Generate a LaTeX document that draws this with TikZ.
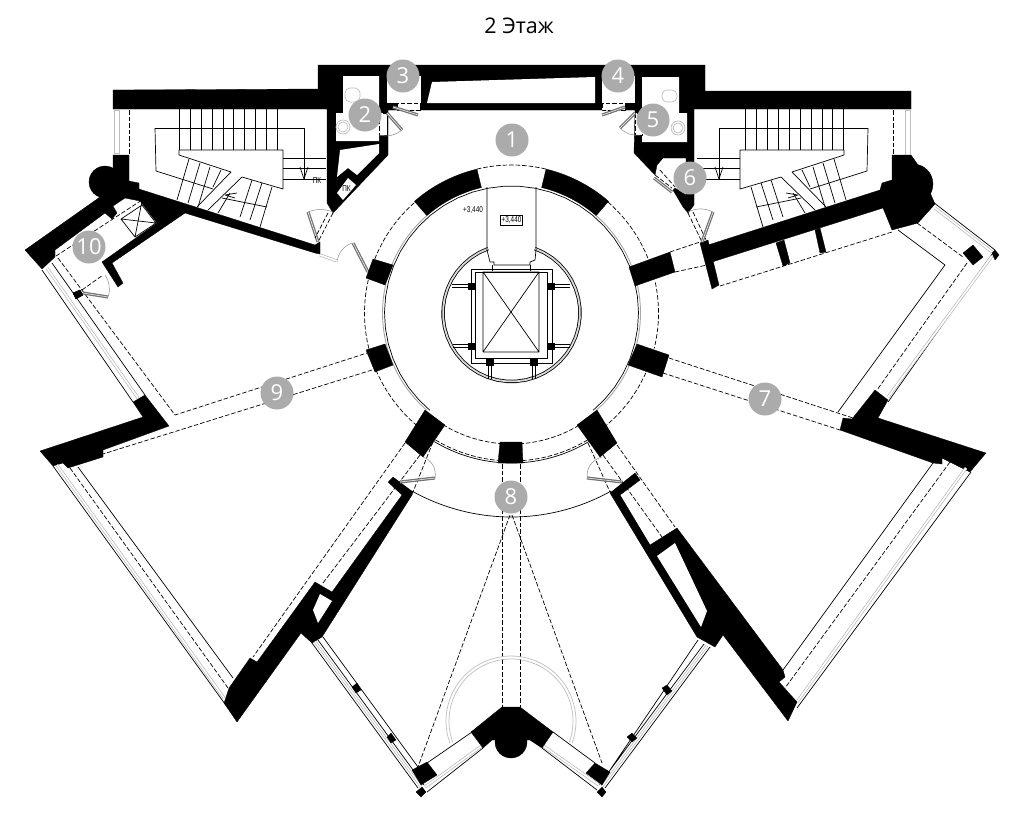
\documentclass[tikz,border=0pt]{standalone}
\usepackage{fontspec}
\setmainfont{Open Sans}
\newfontfamily\planfont{Liberation Sans}
\tikzset{
  wall/.style={fill=black,draw=black,line width=.3pt,line join=round},
  hole/.style={fill=white},
  plainline/.style={draw=black,line width=.7pt},
  dashline/.style={draw=black,line width=.7pt,dash pattern=on 4.5pt off 2pt},
  pane/.style={draw=black!28,line width=.7pt,double=white,double distance=1.6pt},
  leaf/.style={draw=black!55,line width=1.3pt,double=white,double distance=.5pt},
  swing/.style={draw=black!45,line width=.5pt},
  fixture/.style={draw=black!25,line width=.7pt},
  numb/.style={circle,fill=black!33,text=white,minimum size=33pt,inner sep=0pt,font=\fontsize{22}{22}\selectfont},
  levelmark/.style={font=\planfont\fontsize{8.5}{9}\selectfont,inner sep=1pt,xscale=.75}
}
\newcommand\ringarc[4][plainline]{\draw[#1] plot[domain=#3:#4,samples=40] ({511.5+#2*cos(\x)},{313+#2*sin(\x)});}
\newcommand\ringblk[4]{\fill[wall] plot[domain=#1:#2,samples=20] ({511.5+#4*cos(\x)},{313+#4*sin(\x)}) -- plot[domain=#2:#1,samples=20] ({511.5+#3*cos(\x)},{313+#3*sin(\x)}) -- cycle;}
\newcommand\stairs{
\foreach \i in {0,...,9}
\draw[plainline] ({179.3+10.9*\i},109)--({179.3+10.9*\i},150);
\draw[plainline] (155,128)--(304,128)--(304,180);
\draw[plainline] (155,128)--(156,171)--(213,189);
\draw[plainline] (179,150)--(283,150)--(283,189)--(242,177)--(208,210);
\draw[plainline] (179,150)--(179,155)--(231,172)--(197,207);
\foreach \a/\b/\c/\d in {189/159/177/200,200/163/188/203,210/167/198/207,221/170/213/187,252/180/240/217,262/183/250/220,272/187/260/227,230/193/218/213}
\draw[plainline] (\a,\b)--(\c,\d);
\draw[plainline] (222,198)--(267,207);
\draw[plainline] (237,193)--(225,195)--(235,198);
\foreach \y in {158,168,179}
\draw[plainline] (283,\y)--(326,\y);
\draw[plainline] (300,167)--(304,179)--(308,167);
}
\begin{document}
\begin{tikzpicture}[x=1pt,y=-1pt,line join=round,line cap=butt]
\useasboundingbox (0,0) rectangle (1024,825);
\fill[white] (0,0) rectangle (1024,825);
\node (title) at (519,26) {\fontsize{21.5}{21.5}\selectfont 2 Этаж};
% top block with wc rooms
\fill[wall] (113,90)--(318,89)--(318,65)--(705,65)--(705,91)--(911,91)--(911,109)--(694,109)--(694,205)--(688,213)--(683,207)--(673,190)--(675,188)--(686,195)--(686,158)--(663,158)--(657,165)--(655,175)--(634,153)--(635,110)--(388,110)--(388,155)--(333,213)--(327,203)--(327,109)--(113,109)--cycle;
\fill[hole] (343,76)--(379,76)--(379,141)--(336,141)--(336,113)--(343,113)--cycle;
\fill[hole] (642,77)--(679,77)--(679,113)--(687,113)--(687,142)--(642,142)--cycle;
\fill[hole] (387,76)--(421,76)--(421,103)--(387,103)--cycle;
\fill[hole] (602,76)--(635,76)--(635,103)--(602,103)--cycle;
\fill[hole] (432,82)--(595,77)--(595,103)--(427,103)--cycle;
\fill[hole] (379,144)--(340,150)--(337,177)--(348,168)--(357,175)--(379,153)--cycle;
\fill[hole] (337,193)--(348,178)--(356,185)--(343,200)--cycle;
\node[levelmark] (pk1) at (346.5,189) {ПК};
\node[levelmark] (pk2) at (317,181) {ПК};
% door openings
\foreach \a/\b/\c/\d in {379/113/387/135,635/113/642/135,397/103/420/110,602/103/625/110}{
\fill[hole] (\a,\b) rectangle (\c,\d);
\draw[dashline] (\a,\b) rectangle (\c,\d);}
\draw[leaf] (387,113)--(402,130);
\draw[swing] (402,130) to[bend left=25] (379,135);
\draw[leaf] (635,113)--(620,128);
\draw[swing] (620,128) to[bend right=25] (640,135);
\draw[leaf] (393,107)--(418,115);
\draw[leaf] (625,107)--(602,115);
\draw[leaf] (654,178)--(672,192);
\draw[dashline] (660,170)--(675,187) (655,175)--(672,188);
% wc fixtures
\draw[fixture,rounded corners=5pt] (345,88) rectangle (360,102);
\draw[fixture] (343,127) circle (7pt) (343,127) circle (5pt);
\draw[fixture,rounded corners=5pt] (662,90) rectangle (677,102);
\draw[fixture] (678,128) circle (7pt) (678,128) circle (5pt);
% stairs, left and right
\stairs
\begin{scope}[shift={(1023,0)},xscale=-1]
\stairs
\end{scope}
% stair windows
\draw[fixture] (114,110) rectangle (119,153);
\draw[dashline] (129,110)--(129,155);
\draw[fixture] (905,110) rectangle (910,155);
\draw[dashline] (893,110)--(893,155);
% north-west wall with lift
\fill[wall] (25,250)--(100,197)--(113,170)--(113,155)--(129,155)--(129,181)--(139,183)--(139,189)--(315,245)--(320,242)--(320,254)--(315,253)--(185,213)--(112,263)--(123,283)--(118,287)--(102,262)--(157,223)--(140,201)--(125,198)--(113,206)--(117,213)--(112,219)--(105,213)--(55,250)--(55,257)--(42,269)--cycle;
\fill[wall] (105,182) circle (16pt);
\draw[plainline] (121,219)--(142,205)--(156,223)--(135,237)--cycle (121,219)--(156,223) (135,237)--(142,201);
\draw[dashline] (56,256)--(142,200);
\draw[dashline] (58,258)--(175,415)--(367,353);
\draw[dashline] (82,290)--(103,275);
\fill[wall] (73,293)--(80,290)--(83,295)--(76,299)--cycle;
\draw[leaf] (83,293)--(108,297);
\draw[swing] (108,297) to[bend right=25] (105,275);
\draw[dashline] (372,370)--(103,454);
% door to the ring, left
\draw[leaf] (353,243)--(368,272);
\draw[swing] (337,262) to[bend left=30] (352,243);
\draw[pane] (320,255)--(337,261);
\draw[leaf] (308,212)--(318,242);
\draw[swing] (308,212) to[bend left=20] (333,212);
\draw[dashline] (333,213)--(318,242) (328,213)--(315,238);
% north-east wing
\fill[wall] (708,245)--(880,190)--(882,183)--(892,180)--(892,155)--(911,155)--(918,165)--(935,204)--(918,223)--(892,230)--(883,208)--(712,262)--cycle;
\fill[wall] (913,184) circle (20pt);
\fill[wall] (776,243)--(784,240)--(790,263)--(783,266)--cycle;
\fill[wall] (815,230)--(820,228)--(826,252)--(820,253)--cycle;
\fill[wall] (700,243)--(708,240)--(719,285)--(712,289)--cycle;
\draw[dashline] (720,286)--(892,232);
\draw[dashline] (670,252)--(700,242) (675,272)--(707,265);
\draw[dashline] (688,213)--(702,242) (693,212)--(706,240);
\draw[leaf] (702,242)--(713,212);
\draw[swing] (688,212) to[bend left=25] (713,212);
\draw[plainline] (898,230)--(945,265)--(838,412);
\draw[dashline] (917,223)--(963,257);
\draw[dashline] (967,263)--(877,390);
\draw[plainline] (933,202)--(995,250)--(888,402);
\draw[pane] (935,208)--(992,252) (992,256)--(888,397);
\fill[wall] (963,253)--(973,245)--(983,257)--(973,265)--cycle;
\fill[wall] (992,253)--(995,250)--(999,255)--(995,260)--cycle;
\draw[dashline] (669,358)--(853,418) (663,373)--(840,430);
% room 7 south wall
\fill[wall] (840,430)--(843,418)--(852,419)--(875,390)--(888,400)--(878,418)--(986,453)--(970,472)--(950,462)--(942,458)--(942,464)--(933,463)--cycle;
\draw[plainline] (971,472)--(797,708);
\draw[pane] (966,468)--(797,702);
\draw[dashline] (950,462)--(785,688);
\draw[plainline] (933,463)--(783,670);
% wing to the right of entrance
\fill[wall] (677,528)--(783,670)--(785,677)--(779,682)--(797,702)--(788,721)--(723,635)--(715,647)--(697,637)--(610,493)--(635,473)--(640,480)--(620,495)--(650,545)--cycle;
\fill[hole] (657,556)--(675,543)--(707,611)--(701,627)--cycle;
\draw[dashline] (617,445)--(675,527) (603,455)--(662,537);
\draw[dashline] (588,443)--(610,492);
\draw[leaf] (622,482)--(587,478);
\draw[swing] (602,457) to[bend right=40] (587,478);
% wall left of entrance
\fill[wall] (388,482)--(393,477)--(413,492)--(412,495)--(322,637)--(312,643)--(301,633)--(237,722)--(224,703)--(229,688)--(250,658)--(257,662)--(315,582)--(332,592)--(402,495)--cycle;
\fill[hole] (320,594)--(332,601)--(318,623)--(313,610)--cycle;
\draw[dashline] (405,443)--(253,657) (420,455)--(323,583);
\draw[dashline] (433,442)--(413,492);
\draw[leaf] (400,482)--(435,478);
\draw[swing] (423,457) to[bend left=40] (435,478);
% west room
\fill[wall] (40,451)--(143,417)--(133,402)--(145,395)--(169,426)--(103,450)--(103,457)--(68,468)--(63,463)--(53,466)--cycle;
\draw[plainline] (53,466)--(225,704);
\draw[pane] (57,465)--(224,698);
\draw[dashline] (70,468)--(228,688);
\draw[plainline] (78,467)--(233,678);
\draw[plainline] (42,270)--(133,402);
\draw[plainline] (52,263)--(145,395);
\draw[pane] (47,268)--(138,398);
\fill[wall] (73,293)--(80,290)--(83,295)--(76,299)--cycle;
% south wing
\draw[plainline] (312,643)--(418,788) (318,640)--(424,785) (323,637)--(418,767);
\draw[pane,double distance=1.2pt] (315,641.5)--(421,786.5);
\draw[plainline] (710,647)--(605,788) (704,644)--(599,785) (698,640)--(610,770);
\draw[pane,double distance=1.2pt] (707,645.5)--(602,786.5);
\foreach \a/\b/\c/\d/\e/\f/\g/\h in {352/687/357/683/361/690/356/693,387/737/391/733/396/740/391/743,662/688/667/685/672/691/667/695,627/737/632/733/637/738/632/742,412/770/427/762/437/775/421/785,586/773/595/763/610/772/602/785,416/792/422/787/426/792/421/797,597/792/602/787/606/792/602/797}
\fill[wall] (\a,\b)--(\c,\d)--(\e,\f)--(\g,\h)--cycle;
\draw[plainline] (427,763)--(472,732) (427,792)--(483,748);
\draw[plainline] (553,732)--(595,763) (542,748)--(597,790);
\draw[pane] (425,787)--(483,745);
\draw[pane] (542,745)--(599,785);
\fill[wall] (502,707)--(520,707)--(553,732)--(542,748)--(530,740)--(492,740)--(483,748)--(471,732)--cycle;
\fill[wall] (511,742) circle (16pt);
\draw[dashline] (502,464)--(502,707) (520,464)--(520,707);
\draw[dashline] (510,515)--(418,767) (512,515)--(602,763);
\draw[fixture] plot[domain=160:380,samples=50] ({511+65*cos(\x)},{721+65*sin(\x)});
\draw[fixture] plot[domain=160:380,samples=50] ({511+62*cos(\x)},{721+62*sin(\x)});
% rotunda
\ringarc[draw=black!35,line width=.9pt]{129}{131}{229}
\ringarc[draw=black!35,line width=.9pt]{129}{311}{409}
\ringarc{127}{130}{410}
\ringarc[dashline]{148}{256.5}{283.5}
\ringarc[dashline]{147}{311}{338.5}
\ringarc[dashline]{147}{348}{374}
\ringarc[dashline]{147}{384}{410}
\ringarc[dashline]{147}{130}{157}
\ringarc[dashline]{147}{166}{193}
\ringarc[dashline]{147}{201.5}{229}
\ringarc[dashline]{131}{59}{86}
\ringarc[dashline]{131}{94}{121}
\ringarc[dashline]{148}{59}{86}
\ringarc[dashline]{148}{94}{121}
\ringarc{150}{59}{121}
\ringarc{204}{60.7}{119.3}
\ringblk{229}{256.5}{129}{148}
\ringblk{283.5}{311}{129}{148}
\foreach \a/\b/\c/\d/\e/\f/\g/\h in {373/259/393/265/385/285/366/278,366/350/385/344/393/365/375/372,629/267/670/252/675/272/635/286,637/344/669/355/662/377/628/365,425/410/445/425/423/457/405/442,577/425/597/410/617/443/600/457,500/442/522/442/523/463/498/463}
\fill[wall] (\a,\b)--(\c,\d)--(\e,\f)--(\g,\h)--cycle;
% lift shaft
\ringarc[draw=black,line width=.8pt,double=black!15,double distance=1.8pt]{68.5}{290}{610}
\draw[plainline] (487,187)--(487,250)--(490,262)--(494,262)--(494,265)--(530,265)--(530,262)--(535,260)--(536,250)--(536,187);
\draw[plainline] (471,269) rectangle (552,363) (475,272) rectangle (547,358);
\draw[plainline] (483,272) rectangle (539,352) (483,272)--(539,352) (539,272)--(483,352);
\draw[plainline] (492,265)--(492,271) (530,265)--(530,271);
\foreach \a/\b in {468/283,547/283,468/343,547/343,486/359,530/359}
\fill[wall] (\a,\b) rectangle ++(7,6);
\foreach \a/\b/\c in {452/284.5/468,452/287.5/468,554/284.5/570,554/287.5/570,453/344.5/468,453/347.5/468,554/344.5/570,554/347.5/570}
\draw[plainline] (\a,\b)--(\c,\b);
\foreach \a in {488,491,532,535}
\draw[plainline] (\a,366)--(\a,379);
\node[levelmark] (lvlplain) at (473,210) {+3,440};
\node[levelmark,draw=black,line width=.6pt,inner sep=1.5pt] (lvlbox) at (511.5,220.5) {+3,440};
% room numbers
\node[numb] (n1) at (512,140) {1};
\node[numb] (n2) at (365,115) {2};
\node[numb] (n3) at (403,76) {3};
\node[numb] (n4) at (618,76) {4};
\node[numb] (n5) at (653,120) {5};
\node[numb] (n6) at (690,178) {6};
\node[numb] (n7) at (765,399) {7};
\node[numb] (n8) at (511,497) {8};
\node[numb] (n9) at (277,393) {9};
\node[numb] (n10) at (89,247) {10};
\end{tikzpicture}
\end{document}
